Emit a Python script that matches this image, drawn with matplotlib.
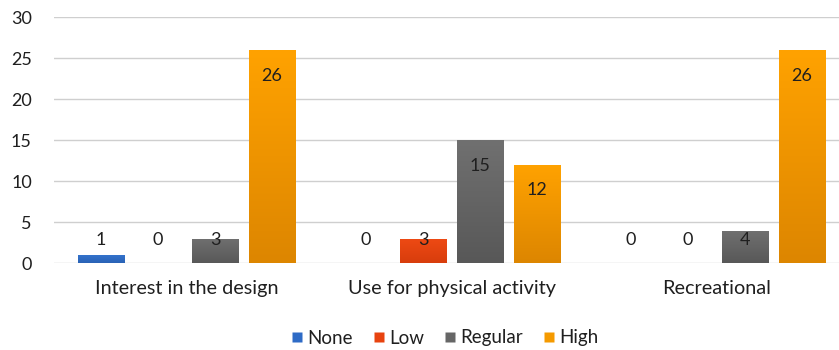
import numpy as np
import matplotlib.pyplot as plt
from matplotlib.lines import Line2D

categories = ['Interest in the design', 'Use for physical activity', 'Recreational']
levels = ['None', 'Low', 'Regular', 'High']
none_vals = [1, 0, 0]
low_vals = [0, 3, 0]
regular_vals = [3, 15, 4]
high_vals = [26, 12, 26]

# top / bottom colours of each series (Excel-like vertical gradient)
colors = {
    'None': ('#3474cf', '#2a63b5'),
    'Low': ('#ee4a14', '#d83d0c'),
    'Regular': ('#707070', '#585858'),
    'High': ('#ffa200', '#dd8600'),
}
legend_colors = {'None': '#2e6bc6', 'Low': '#e8430f', 'Regular': '#666666', 'High': '#f59a00'}

plt.rcParams['font.family'] = ['Lato', 'DejaVu Sans']
text_color = '#1f1f1f'

fig = plt.figure(figsize=(8.39, 3.5), dpi=100)
ax = fig.add_axes([54 / 839, 1 - 263.3 / 350, 795 / 839, (263.3 - 17.3) / 350])

x = np.arange(len(categories))
width = 0.177
pitch = 0.215
series = [none_vals, low_vals, regular_vals, high_vals]

for i, (name, vals) in enumerate(zip(levels, series)):
    bars = ax.bar(x + (i - 1.5) * pitch, vals, width, color='none', edgecolor='none', zorder=3)
    top, bottom = colors[name]
    cmap = plt.matplotlib.colors.LinearSegmentedColormap.from_list(name, [bottom, top])
    for b, v in zip(bars, vals):
        if v > 0:
            grad = np.linspace(0, 1, 100).reshape(-1, 1)
            im = ax.imshow(grad, cmap=cmap, origin='lower', aspect='auto', zorder=3,
                           extent=[b.get_x(), b.get_x() + b.get_width(), 0, v])
            im.set_clip_path(b)
        ly = max(v - 3.1, 2.8)
        ax.text(b.get_x() + b.get_width() / 2, ly, str(v), ha='center', va='center',
                fontsize=13, color=text_color, zorder=5)

ax.set_xlim(-0.5, 2.5)
ax.set_ylim(0, 30)
ax.set_yticks(range(0, 31, 5))
ax.set_xticks(x)
ax.set_xticklabels(categories, fontsize=14.3)
ax.grid(axis='y', color='#cfcfcf', linewidth=1.0, zorder=0)
ax.set_axisbelow(True)
for s in ax.spines.values():
    s.set_visible(False)
ax.tick_params(axis='both', length=0, colors=text_color)
ax.tick_params(axis='y', pad=16, labelsize=13)
ax.tick_params(axis='x', pad=12)

handles = [Line2D([], [], marker='s', linestyle='none', markersize=6.5,
                  markerfacecolor=legend_colors[n], markeredgecolor='none') for n in levels]
fig.legend(handles, levels, loc='center', bbox_to_anchor=(443 / 839, 1 - 338 / 350),
           ncol=4, frameon=False, fontsize=13.5, handletextpad=0.05, columnspacing=0.9,
           handlelength=1.0, labelcolor=text_color)

fig.savefig('out.png', dpi=100)
